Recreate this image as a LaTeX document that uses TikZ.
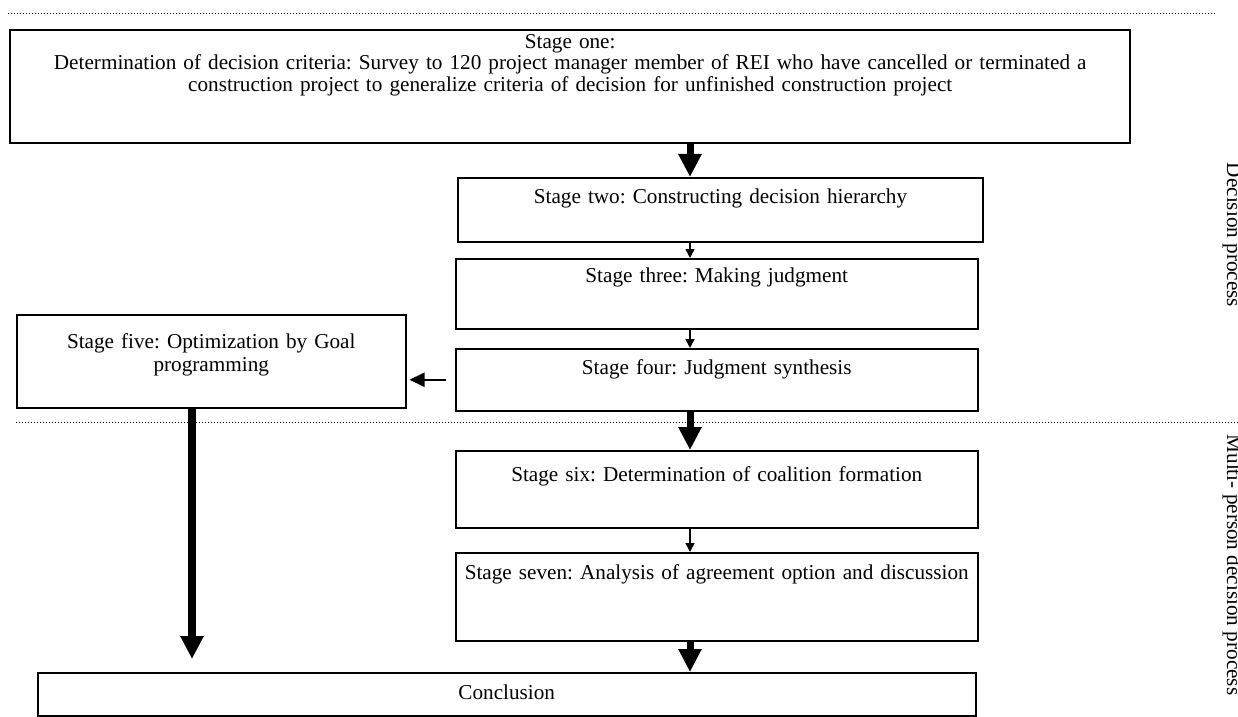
\documentclass[tikz,border=0pt]{standalone}
\usepackage{fontspec}
\setmainfont{Liberation Serif}
\usetikzlibrary{arrows.meta}
\frenchspacing

\begin{document}
\begin{tikzpicture}[x=0.5pt,y=-0.5pt,
    stage/.style={draw,line width=0.75pt,anchor=north west,inner sep=0pt,align=center,
      font=\fontsize{10.6}{11.5}\selectfont,text height=13pt},
    bigarrow/.style={line width=3.5pt,-{Triangle[width=11pt,length=11.5pt]}},
    smallarrow/.style={line width=0.75pt,-{Triangle[width=4.5pt,length=4.5pt]}},
    divider/.style={line width=0.5pt,dash pattern=on 0.7pt off 0.8pt},
    side/.style={rotate=-90,anchor=base,font=\fontsize{10.6}{12}\selectfont}]
    \useasboundingbox (0,0) rectangle (1238,717);

    % dotted separators
    \draw[divider] (8,14) -- (1215,14);
    \draw[divider] (16,422) -- (1238,422);

    \node[stage,line width=1.2pt,font=\fontsize{10.6}{10.8}\selectfont,text width=560pt,text height=9pt,text depth=47.5pt] (one) at (9,29)
        {Stage one:\\ Determination of decision criteria: Survey to 120 project manager member of REI who have cancelled or terminated a\\ construction project to generalize criteria of decision for unfinished construction project};
    \node[stage,line width=1pt,text width=262.5pt,text depth=19pt] (two) at (457,177) {Stage two: Constructing decision hierarchy};
    \node[stage,text width=261pt,text height=12pt,text depth=23pt] (three) at (455,258) {Stage three: Making judgment};
    \node[stage,text width=261pt,text depth=18pt] (four) at (455,348) {Stage four: Judgment synthesis};
    \node[stage,text width=194.5pt,text height=17pt,text depth=29.5pt] (five) at (16,314) {Stage five: Optimization by Goal\\ programming};
    \node[stage,text width=261pt,text height=15.5pt,text depth=23pt] (six) at (455,450) {Stage six: Determination of coalition formation};
    \node[stage,text width=261pt,text height=13.5pt,text depth=30.5pt] (seven) at (455,552) {Stage seven: Analysis of agreement option and discussion};
    \node[stage,text width=469pt,text height=13.5pt,text depth=8pt] (concl) at (37,672) {Conclusion};

    \node[side] (decision) at (1227,235) {Decision process};
    \node[side] (multi) at (1227,565) {Multi- person decision process};

    \coordinate (axis) at (690,0);
    \coordinate (leftaxis) at (192,0);
    \coordinate (leftend) at (192,659);

    \draw[bigarrow] (one.south -| axis) -- (two.north -| axis);
    \draw[smallarrow] (two.south -| axis) -- (three.north -| axis);
    \draw[smallarrow] (three.south -| axis) -- (four.north -| axis);
    \draw[bigarrow] (four.south -| axis) -- (six.north -| axis);
    \draw[smallarrow] (six.south -| axis) -- (seven.north -| axis);
    \draw[bigarrow] (seven.south -| axis) -- (concl.north -| axis);
    \draw[line width=1pt,-{Triangle[width=7pt,length=7.5pt]}] ([xshift=-4.5pt]four.west) -- ([xshift=1.5pt]five.east |- four.west);
    \draw[bigarrow,line width=4pt] (five.south -| leftaxis) -- (leftend);
\end{tikzpicture}
\end{document}
